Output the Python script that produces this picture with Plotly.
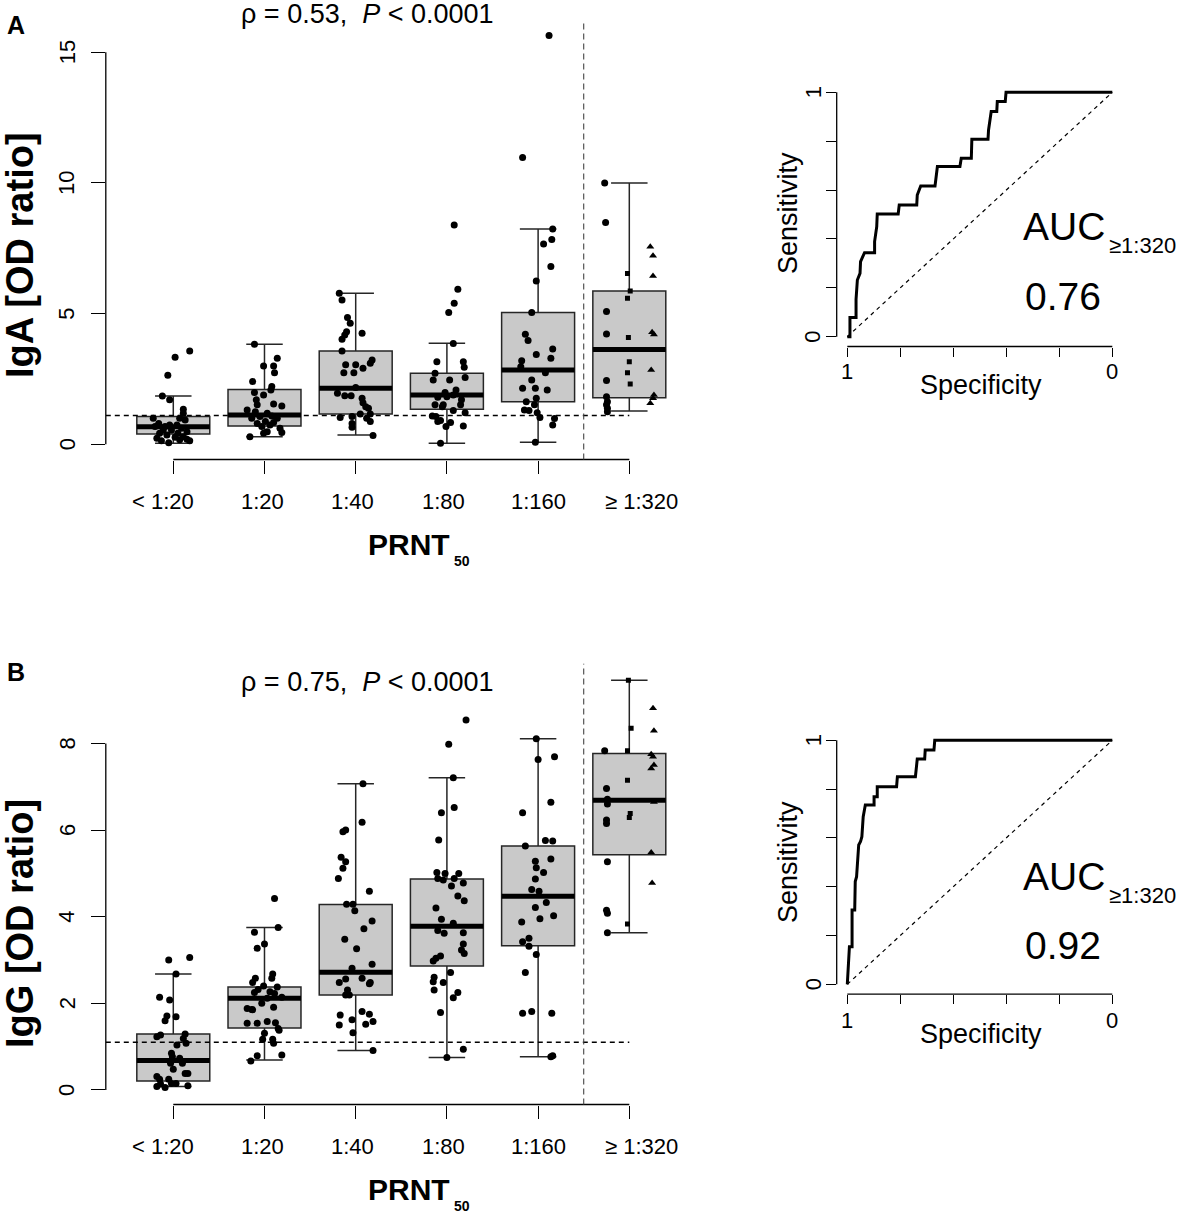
import plotly.graph_objects as go

W, H = 1182, 1216

# ---------------- data ----------------
CATEGORIES = ["< 1:20", "1:20", "1:40", "1:80", "1:160", "≥ 1:320"]

IGA_Q1 = [0.39, 0.70, 1.16, 1.34, 1.63, 1.78]
IGA_MED = [0.67, 1.12, 2.14, 1.89, 2.84, 3.63]
IGA_Q3 = [1.06, 2.10, 3.57, 2.72, 5.04, 5.87]
IGA_LO = [0.04, 0.29, 0.36, 0.04, 0.08, 1.27]
IGA_HI = [1.85, 3.83, 5.78, 3.87, 8.24, 10.0]

IGG_Q1 = [0.21, 1.43, 2.19, 2.86, 3.33, 5.43]
IGG_MED = [0.68, 2.12, 2.72, 3.78, 4.47, 6.69]
IGG_Q3 = [1.29, 2.38, 4.28, 4.87, 5.63, 7.77]
IGG_LO = [0.08, 0.69, 0.91, 0.75, 0.77, 3.63]
IGG_HI = [2.68, 3.75, 7.07, 7.21, 8.11, 9.46]

CUTOFF = 1.1
SPLIT_AT = 5.5

# individual sera (values) and horizontal jitter, categories 1-5
IGA_Y = [
    [3.57, 3.33, 2.64, 1.85, 1.70, 1.34, 1.19, 1.0, 1.0, 0.80, 0.93, 0.74, 0.68, 0.55, 0.61, 0.48, 0.42, 0.36, 0.27, 0.23, 0.19, 0.06, 0.17, 0.14, 0.14, 0.55, 0.74, 0.68, 0.42, 0.29],
    [3.83, 3.29, 3.0, 3.0, 2.74, 2.40, 2.21, 2.08, 1.98, 1.89, 1.70, 1.54, 1.47, 1.51, 1.31, 1.25, 1.19, 1.06, 1.08, 1.0, 1.0, 0.87, 0.80, 0.74, 0.61, 0.68, 0.48, 0.45, 0.42, 0.29, 0.83],
    [5.78, 5.52, 4.85, 4.63, 4.31, 4.18, 4.25, 4.02, 3.57, 3.23, 3.10, 3.04, 3.04, 2.91, 2.74, 2.74, 2.17, 1.95, 1.86, 1.86, 1.76, 1.59, 1.44, 1.38, 1.03, 1.06, 1.16, 1.16, 0.87, 0.80, 0.65, 0.34, 1.00],
    [8.39, 5.93, 5.40, 5.04, 3.86, 3.16, 3.16, 2.95, 2.72, 2.56, 2.46, 2.46, 1.98, 2.08, 1.89, 1.70, 1.80, 1.51, 1.44, 1.51, 1.21, 1.29, 1.08, 1.06, 0.91, 0.87, 0.83, 0.70, 0.68, 0.04, 1.82, 1.51],
    [15.64, 10.98, 8.24, 7.84, 7.67, 6.80, 6.25, 5.04, 4.21, 3.97, 3.65, 3.44, 3.29, 3.20, 2.97, 2.74, 2.46, 2.14, 2.14, 2.08, 1.63, 1.76, 1.51, 1.31, 1.21, 1.03, 0.99, 0.74, 0.08, 1.29],
]
IGA_DX = [
    [0.18, 0.02, -0.06, -0.12, -0.04, 0.11, 0.11, -0.22, 0.07, -0.16, 0.13, 0.04, -0.09, -0.02, 0.09, 0.15, -0.15, -0.07, 0.02, -0.18, 0.15, -0.05, 0.07, -0.13, 0.18, -0.11, -0.04, -0.20, 0.05, 0.11],
    [-0.11, 0.14, -0.01, 0.10, 0.11, -0.13, 0.08, 0.07, -0.11, -0.01, -0.09, 0.10, 0.19, -0.08, -0.19, -0.10, 0.03, -0.05, 0.08, -0.14, 0.14, 0.01, -0.08, 0.06, 0.17, -0.03, 0.03, 0.19, -0.01, -0.16, 0.10],
    [-0.18, -0.15, -0.09, -0.06, -0.10, -0.12, 0.07, -0.15, -0.15, 0.18, 0.16, -0.11, 0.00, 0.08, -0.13, -0.02, 0.00, -0.20, -0.12, -0.05, 0.07, 0.08, 0.11, 0.14, -0.17, -0.04, 0.05, 0.16, 0.16, -0.04, -0.04, 0.19, 0.12],
    [0.08, 0.12, 0.08, 0.02, 0.07, -0.11, 0.18, 0.19, -0.13, 0.20, -0.15, 0.03, -0.02, 0.10, 0.07, 0.16, -0.10, -0.13, -0.05, -0.04, 0.20, 0.07, -0.16, -0.12, -0.07, -0.10, 0.04, 0.18, -0.01, -0.07, 0.00, 0.15],
    [0.12, -0.17, 0.16, 0.15, 0.06, 0.14, -0.02, -0.07, -0.14, -0.11, 0.16, -0.02, 0.14, -0.18, -0.19, 0.08, -0.07, -0.17, -0.03, 0.10, -0.13, -0.02, -0.04, -0.15, -0.01, 0.02, 0.18, 0.16, -0.03, -0.10],
]
# >= 1:320, three sub-groups (circle / square / triangle)
IGA_320_CIRCLE_Y = [10.0, 8.49, 5.08, 4.22, 2.44, 1.82, 1.63, 1.51, 1.38, 1.25]
IGA_320_CIRCLE_DX = [-0.27, -0.26, -0.25, -0.25, -0.25, -0.25, -0.24, -0.25, -0.24, -0.24]
IGA_320_SQUARE_Y = [6.54, 5.87, 5.59, 4.09, 3.16, 2.74, 2.31]
IGA_320_SQUARE_DX = [-0.02, 0.01, -0.02, -0.01, 0.0, -0.02, 0.01]
IGA_320_TRI_Y = [7.56, 7.22, 6.44, 4.29, 4.20, 2.84, 1.89, 1.76, 1.57]
IGA_320_TRI_DX = [0.23, 0.26, 0.26, 0.25, 0.27, 0.24, 0.27, 0.26, 0.23]

IGG_Y = [
    [3.0, 3.06, 2.68, 2.14, 2.08, 1.71, 1.69, 1.60, 1.23, 1.27, 1.29, 1.19, 1.04, 1.08, 0.85, 0.77, 0.73, 0.62, 0.62, 0.38, 0.38, 0.48, 0.31, 0.25, 0.25, 0.15, 0.08, 0.06, 0.15, 0.10, 0.14],
    [4.42, 3.64, 3.75, 3.37, 3.27, 2.68, 2.58, 2.58, 2.48, 2.40, 2.38, 2.32, 2.27, 2.25, 2.23, 2.14, 2.12, 2.0, 1.88, 1.86, 1.91, 1.85, 1.54, 1.58, 1.55, 1.42, 1.38, 1.54, 1.31, 1.17, 1.17, 1.08, 0.79, 0.81, 0.67],
    [7.07, 6.18, 6.0, 5.96, 5.37, 5.27, 5.12, 4.88, 4.59, 4.29, 4.29, 4.14, 3.90, 3.72, 3.48, 3.26, 2.81, 2.90, 2.58, 2.48, 2.45, 2.48, 2.56, 2.31, 2.19, 2.19, 1.73, 1.62, 1.81, 1.75, 1.50, 1.52, 1.58, 1.32, 0.91],
    [8.54, 7.98, 7.21, 6.52, 6.40, 5.77, 5.02, 5.0, 5.0, 4.88, 4.85, 4.88, 4.78, 4.71, 4.48, 4.37, 4.2, 3.94, 3.85, 3.68, 3.62, 3.63, 3.37, 3.15, 3.23, 3.09, 3.04, 2.98, 2.71, 2.60, 2.50, 2.48, 2.31, 2.25, 2.13, 1.79, 0.94, 0.75],
    [8.11, 7.63, 7.69, 6.64, 6.40, 5.63, 5.76, 5.75, 5.33, 5.28, 5.13, 5.02, 4.87, 4.63, 4.59, 4.33, 4.21, 4.02, 3.95, 3.88, 3.50, 3.42, 3.32, 3.13, 2.71, 1.77, 1.81, 1.77, 0.77, 0.79],
]
IGG_DX = [
    [-0.05, 0.18, 0.03, -0.15, -0.04, -0.07, 0.03, -0.09, -0.18, -0.14, 0.13, 0.11, 0.04, 0.14, -0.02, -0.01, 0.07, -0.03, 0.10, 0.16, 0.13, 0.0, -0.18, -0.15, -0.05, -0.02, -0.18, -0.09, 0.03, 0.16, -0.14],
    [0.11, -0.11, 0.15, 0.00, -0.08, 0.09, 0.08, -0.10, -0.13, -0.01, 0.14, -0.07, 0.06, -0.11, 0.11, 0.19, 0.03, -0.03, -0.19, -0.14, 0.10, -0.13, -0.19, 0.03, 0.12, 0.15, 0.16, -0.08, 0.00, -0.02, 0.09, 0.10, -0.08, 0.19, -0.15],
    [0.08, 0.07, -0.11, -0.14, -0.16, -0.11, -0.14, -0.19, 0.15, -0.10, -0.03, -0.01, 0.18, 0.09, -0.12, 0.01, -0.04, 0.18, 0.07, 0.16, 0.15, -0.18, -0.11, -0.09, -0.07, -0.11, -0.17, -0.04, 0.07, 0.15, -0.18, 0.11, 0.19, -0.03, 0.19],
    [0.21, 0.02, 0.07, 0.08, -0.06, -0.09, -0.11, -0.02, 0.13, -0.10, -0.04, 0.08, 0.18, 0.05, 0.12, 0.19, -0.12, -0.06, 0.07, -0.10, -0.03, 0.18, 0.18, 0.19, 0.16, -0.07, -0.12, -0.15, 0.04, -0.14, -0.15, -0.04, -0.14, 0.12, 0.07, -0.07, 0.18, 0.0],
    [-0.02, 0.0, 0.18, 0.14, -0.17, -0.14, 0.08, 0.16, 0.14, -0.03, -0.02, 0.06, -0.03, -0.07, 0.01, 0.09, -0.03, 0.17, 0.02, -0.18, -0.10, -0.17, -0.10, -0.02, -0.14, -0.17, -0.07, 0.15, 0.14, 0.16],
]
IGG_320_CIRCLE_Y = [7.83, 6.96, 6.71, 6.60, 6.23, 6.15, 5.27, 4.15, 4.08, 3.63]
IGG_320_CIRCLE_DX = [-0.27, -0.25, -0.24, -0.24, -0.25, -0.25, -0.24, -0.25, -0.24, -0.24]
IGG_320_SQUARE_Y = [9.46, 8.35, 7.83, 7.15, 6.38, 6.29, 3.83]
IGG_320_SQUARE_DX = [-0.01, 0.02, -0.02, -0.02, 0.01, 0.0, -0.02]
IGG_320_TRI_Y = [8.81, 8.29, 7.75, 7.69, 7.50, 7.42, 6.65, 5.48, 4.78]
IGG_320_TRI_DX = [0.26, 0.27, 0.24, 0.26, 0.27, 0.24, 0.27, 0.24, 0.25]

ROC_A_SPEC = [1, 0.990, 0.990, 0.967, 0.967, 0.962, 0.952, 0.950, 0.935, 0.897, 0.897, 0.889, 0.887, 0.808, 0.804, 0.738, 0.736, 0.723, 0.669, 0.665, 0.660, 0.575, 0.570, 0.532, 0.530, 0.469, 0.467, 0.457, 0.436, 0.434, 0.404, 0.401, 0]
ROC_A_SENS = [0, 0, 0.079, 0.079, 0.153, 0.232, 0.259, 0.307, 0.344, 0.344, 0.389, 0.450, 0.502, 0.502, 0.539, 0.539, 0.580, 0.617, 0.617, 0.662, 0.696, 0.696, 0.730, 0.730, 0.808, 0.808, 0.846, 0.921, 0.921, 0.962, 0.962, 1.0, 1.0]
ROC_B_SPEC = [1, 0.996, 0.992, 0.982, 0.982, 0.972, 0.970, 0.965, 0.962, 0.957, 0.950, 0.945, 0.940, 0.932, 0.899, 0.899, 0.887, 0.887, 0.814, 0.811, 0.743, 0.741, 0.736, 0.708, 0.706, 0.673, 0.670, 0]
ROC_B_SENS = [0, 0.072, 0.154, 0.154, 0.305, 0.305, 0.421, 0.441, 0.503, 0.571, 0.585, 0.605, 0.687, 0.735, 0.735, 0.769, 0.769, 0.810, 0.810, 0.851, 0.851, 0.885, 0.923, 0.923, 0.960, 0.960, 1.0, 1.0]

AUC_A = "0.76"
AUC_B = "0.92"
RHO_A = "0.53"
RHO_B = "0.75"
IGA_TICKS = [0, 5, 10, 15]
IGG_TICKS = [0, 2, 4, 6, 8]

# ---------------- figure ----------------
FONT = "Liberation Sans"
BOX_W = 0.8
fig = go.Figure()


def px_x(p):
    return p / W


def px_y(p):
    return 1 - p / H


def add_panel(xa, ya, q1, med, q3, lo, hi, ys, dxs, cy, cdx, sy, sdx, ty, tdx):
    pos = list(range(1, len(CATEGORIES) + 1))
    fig.add_trace(go.Box(x=pos, q1=q1, median=med, q3=q3, lowerfence=lo, upperfence=hi,
                         width=BOX_W, whiskerwidth=0.5, fillcolor="#c9c9c9",
                         line=dict(color="#262626", width=1.5), boxpoints=False,
                         xaxis=xa, yaxis=ya, hoverinfo="skip"))
    mx, my = [], []
    for p, m in zip(pos, med):
        mx += [p - BOX_W / 2, p + BOX_W / 2, None]
        my += [m, m, None]
    fig.add_trace(go.Scatter(x=mx, y=my, mode="lines", line=dict(color="black", width=5),
                             xaxis=xa, yaxis=ya, hoverinfo="skip"))
    px, py = [], []
    for p, yy, dd in zip(pos, ys, dxs):
        px += [p + d for d in dd]
        py += yy
    px += [6 + d for d in cdx]
    py += cy
    fig.add_trace(go.Scatter(x=px, y=py, mode="markers", marker=dict(color="black", size=7),
                             xaxis=xa, yaxis=ya, hoverinfo="skip"))
    fig.add_trace(go.Scatter(x=[6 + d for d in sdx], y=sy, mode="markers",
                             marker=dict(color="black", size=5, symbol="square"),
                             xaxis=xa, yaxis=ya, hoverinfo="skip"))
    fig.add_trace(go.Scatter(x=[6 + d for d in tdx], y=ty, mode="markers",
                             marker=dict(color="black", size=7, symbol="triangle-up"),
                             xaxis=xa, yaxis=ya, hoverinfo="skip"))


add_panel("x", "y", IGA_Q1, IGA_MED, IGA_Q3, IGA_LO, IGA_HI, IGA_Y, IGA_DX,
          IGA_320_CIRCLE_Y, IGA_320_CIRCLE_DX, IGA_320_SQUARE_Y, IGA_320_SQUARE_DX,
          IGA_320_TRI_Y, IGA_320_TRI_DX)
add_panel("x2", "y2", IGG_Q1, IGG_MED, IGG_Q3, IGG_LO, IGG_HI, IGG_Y, IGG_DX,
          IGG_320_CIRCLE_Y, IGG_320_CIRCLE_DX, IGG_320_SQUARE_Y, IGG_320_SQUARE_DX,
          IGG_320_TRI_Y, IGG_320_TRI_DX)

for xa, ya, spec, sens in (("x3", "y3", ROC_A_SPEC, ROC_A_SENS), ("x4", "y4", ROC_B_SPEC, ROC_B_SENS)):
    fig.add_trace(go.Scatter(x=[1, 0], y=[0, 1], mode="lines",
                             line=dict(color="black", width=1.2, dash="4px,4px"),
                             xaxis=xa, yaxis=ya, hoverinfo="skip"))
    fig.add_trace(go.Scatter(x=spec, y=sens, mode="lines", line=dict(color="black", width=3),
                             xaxis=xa, yaxis=ya, hoverinfo="skip"))

# axes
BOX_XDOM = [105.8 / W, 696.8 / W]
common = dict(showgrid=False, zeroline=False, showline=False, ticks="outside",
              tickcolor="black", tickwidth=1.3, showticklabels=False, fixedrange=True)
fig.update_layout(
    xaxis=dict(domain=BOX_XDOM, range=[0.26, 6.74], anchor="y", tickvals=list(range(1, 7)), ticklen=13, **common),
    yaxis=dict(domain=[px_y(459.5), px_y(19.5)], range=[-0.582, 16.257], anchor="x", tickvals=IGA_TICKS, ticklen=14, **common),
    xaxis2=dict(domain=BOX_XDOM, range=[0.26, 6.74], anchor="y2", tickvals=list(range(1, 7)), ticklen=13, **common),
    yaxis2=dict(domain=[px_y(1104.5), px_y(663.7)], range=[-0.335, 9.84], anchor="x2", tickvals=IGG_TICKS, ticklen=14, **common),
    xaxis3=dict(domain=[836.7 / W, 1122.9 / W], range=[1.04, -0.04], anchor="y3", tickvals=[0, 0.2, 0.4, 0.6, 0.8, 1], ticklen=9, **common),
    yaxis3=dict(domain=[px_y(346.5), px_y(82.5)], range=[-0.04, 1.04], anchor="x3", tickvals=[0, 0.2, 0.4, 0.6, 0.8, 1], ticklen=10, **common),
    xaxis4=dict(domain=[836.7 / W, 1122.9 / W], range=[1.04, -0.04], anchor="y4", tickvals=[0, 0.2, 0.4, 0.6, 0.8, 1], ticklen=9, **common),
    yaxis4=dict(domain=[px_y(994.1), px_y(730.5)], range=[-0.04, 1.04], anchor="x4", tickvals=[0, 0.2, 0.4, 0.6, 0.8, 1], ticklen=10, **common),
)

shapes = []
AX = dict(color="black", width=1.3)
for xa, ya, ticks in (("x", "y", IGA_TICKS), ("x2", "y2", IGG_TICKS)):
    shapes.append(dict(type="line", xref=xa + " domain", yref=ya, x0=0, x1=0, y0=ticks[0], y1=ticks[-1], line=AX))
    shapes.append(dict(type="line", xref=xa, yref=ya + " domain", x0=1, x1=len(CATEGORIES), y0=0, y1=0, line=AX))
    shapes.append(dict(type="line", xref=xa, yref=ya, x0=0.26, x1=len(CATEGORIES), y0=CUTOFF, y1=CUTOFF,
                       line=dict(color="black", width=1.5, dash="5px,4px")))
    shapes.append(dict(type="line", xref=xa, yref=ya + " domain", x0=SPLIT_AT, x1=SPLIT_AT, y0=0, y1=1,
                       line=dict(color="#444444", width=1.1, dash="6px,4px")))
for xa, ya in (("x3", "y3"), ("x4", "y4")):
    shapes.append(dict(type="line", xref=xa + " domain", yref=ya, x0=0, x1=0, y0=0, y1=1, line=AX))
    shapes.append(dict(type="line", xref=xa, yref=ya + " domain", x0=1, x1=0, y0=0, y1=0, line=AX))

ann = []


def note(text, x, y, size, xref="paper", yref="paper", angle=0, xanchor="center", xshift=0):
    ann.append(dict(text=text, x=x, y=y, xref=xref, yref=yref, showarrow=False, textangle=angle,
                    xanchor=xanchor, yanchor="middle", xshift=xshift,
                    font=dict(size=size, family=FONT, color="black")))


LABEL_SHIFT = [-10, -2, -3, -3, 0, 12]
for ya, ticks, lab_y, title_y, letter, letter_y, ylab, ylab_y, rho, prnt_y in (
        ("y", IGA_TICKS, 502, 14, "A", 25, "IgA [OD ratio]", 255, RHO_A, 544),
        ("y2", IGG_TICKS, 1146, 682, "B", 672, "IgG [OD ratio]", 924, RHO_B, 1189)):
    xa = "x" if ya == "y" else "x2"
    for t in ticks:
        note(str(t), px_x(67), t, 22, yref=ya, angle=-90)
    for i, c in enumerate(CATEGORIES):
        note(c, i + 1, px_y(lab_y), 22, xref=xa, xshift=LABEL_SHIFT[i])
    note(f"ρ = {rho},  <i>P</i> < 0.0001", px_x(367), px_y(title_y), 27)
    note(f"<b>{letter}</b>", px_x(16), px_y(letter_y), 25)
    note(f"<b>{ylab}</b>", px_x(20), px_y(ylab_y), 38, angle=-90)
    note("<b>PRNT</b>", px_x(409), px_y(prnt_y), 30)
    note("<b>50</b>", px_x(462), px_y(prnt_y + 17), 14)

for xa, ya, top, auc in (("x3", "y3", 0, AUC_A), ("x4", "y4", 649, AUC_B)):
    note("Sensitivity", px_x(788), px_y(213 + top), 27, angle=-90)
    note("Specificity", px_x(981), px_y(385 + top), 27)
    note("1", 1, px_y(371 + top), 22, xref=xa)
    note("0", 0, px_y(371 + top), 22, xref=xa)
    note("1", px_x(813), 1, 22, yref=ya, angle=-90)
    note("0", px_x(813), 0, 22, yref=ya, angle=-90)
    note("AUC", px_x(1064), px_y(227 + top), 39)
    note("≥1:320", px_x(1107), px_y(246 + top), 22, xanchor="left")
    note(auc, px_x(1063), px_y(296 + top), 39)

fig.update_layout(width=W, height=H, margin=dict(l=0, r=0, t=0, b=0),
                  plot_bgcolor="white", paper_bgcolor="white", showlegend=False,
                  font=dict(family=FONT, color="black"), shapes=shapes, annotations=ann)

fig.write_html("out.html", config={"displayModeBar": False},
               post_script="document.body.style.margin='0';document.body.style.overflow='hidden';")
